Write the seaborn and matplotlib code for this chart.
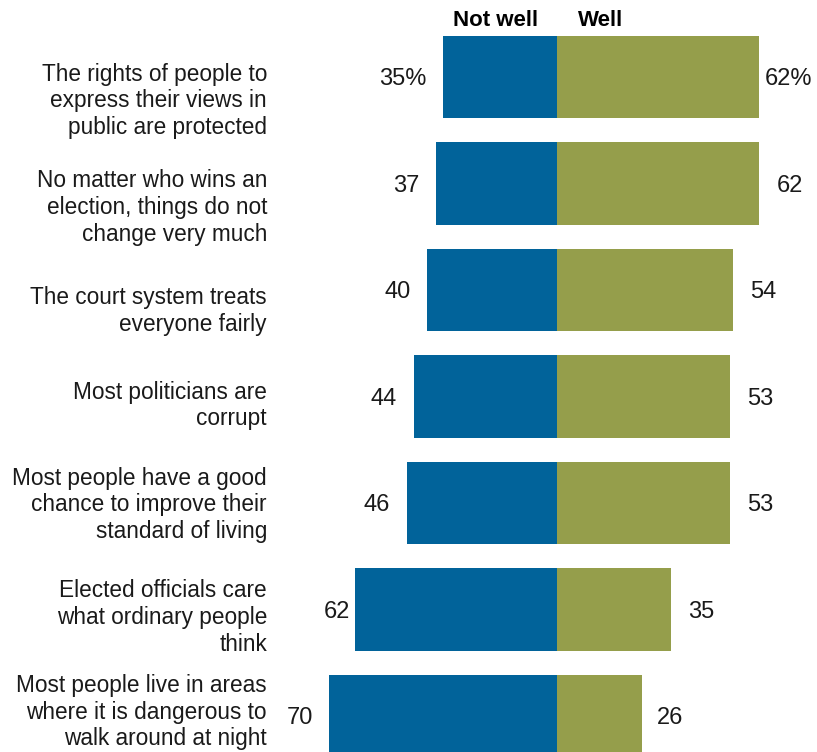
import matplotlib
matplotlib.use("Agg")
import matplotlib.pyplot as plt
import seaborn as sns
import pandas as pd

statements = [
    "The rights of people to\nexpress their views in\npublic are protected",
    "No matter who wins an\nelection, things do not\nchange very much",
    "The court system treats\neveryone fairly",
    "Most politicians are\ncorrupt",
    "Most people have a good\nchance to improve their\nstandard of living",
    "Elected officials care\nwhat ordinary people\nthink",
    "Most people live in areas\nwhere it is dangerous to\nwalk around at night",
]
not_well = [35, 37, 40, 44, 46, 62, 70]
well = [62, 62, 54, 53, 53, 35, 26]
series_names = ["Not well", "Well"]

BLUE = "#01639A"
GREEN = "#959E4B"

sns.set_theme(style="white")
plt.rcParams["font.family"] = ["Liberation Sans", "DejaVu Sans"]

df = pd.DataFrame({"statement": statements,
                   "not_well": [-v for v in not_well],
                   "well": well})

fig = plt.figure(figsize=(8.17, 7.52), dpi=100)
ax = fig.add_axes([0, 0, 1, 1])

sns.barplot(data=df, y="statement", x="not_well", color=BLUE, width=0.77,
            saturation=1, orient="h", ax=ax, edgecolor="none")
sns.barplot(data=df, y="statement", x="well", color=GREEN, width=0.77,
            saturation=1, orient="h", ax=ax, edgecolor="none")

# pixel-based scale: 3.26 px per percentage point, zero at x=557 px
PX = 3.26
x0 = 557
ax.set_xlim(-x0 / PX, (817 - x0) / PX)
row_px = 106.5
top_px = 77
ax.set_ylim((752 - top_px) / row_px, -top_px / row_px)
ax.axis("off")

def px_x(p):
    return (p - x0) / PX

label_shift = [24, 24, 21, 9, 2, 8, -4]
for i, text in enumerate(statements):
    ax.text(px_x(267), i + label_shift[i] / row_px, text, ha="right", va="center",
            fontsize=16.3, color="#1a1a1a",
            linespacing=1.22, multialignment="right")

nw_gap = [16, 17, 16, 17, 17, 5, 16]
w_gap = [6, 18, 17, 17, 17, 17, 15]
for i, (a, b) in enumerate(zip(not_well, well)):
    sfx = "%" if i == 0 else ""
    ax.text(-a - nw_gap[i] / PX, i + 0.02, f"{a}{sfx}", ha="right", va="center",
            fontsize=17, color="#1a1a1a")
    ax.text(b + w_gap[i] / PX, i + 0.02, f"{b}{sfx}", ha="left", va="center",
            fontsize=17, color="#1a1a1a")

head_y = (20 - top_px) / row_px
ax.text(px_x(496), head_y, series_names[0], ha="center", va="center",
        fontsize=16, fontweight="bold", color="black")
ax.text(px_x(578), head_y, series_names[1], ha="left", va="center",
        fontsize=16, fontweight="bold", color="black")

fig.savefig("out.png", dpi=100)
